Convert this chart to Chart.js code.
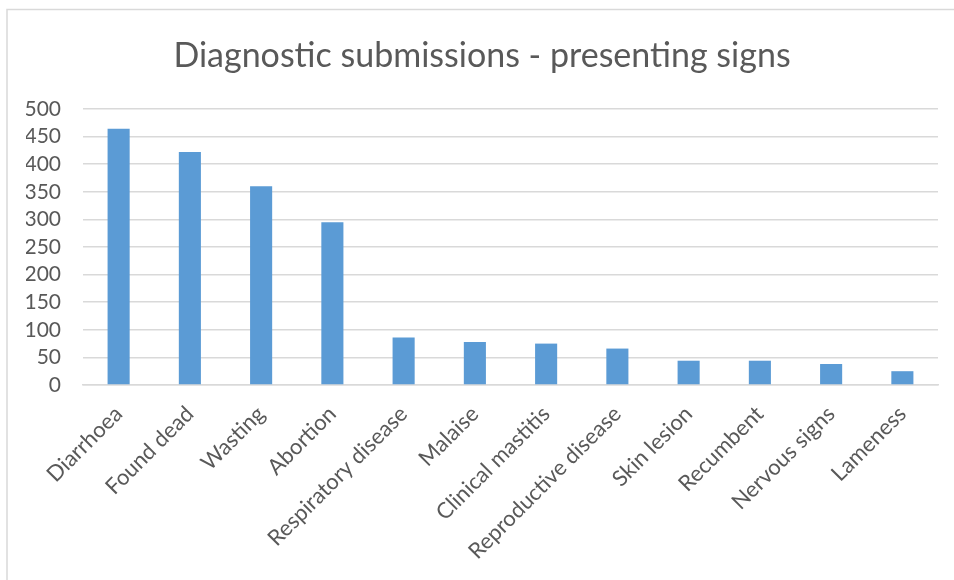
<!DOCTYPE html>
<html>
<head>
<meta charset="utf-8">
<script src="https://cdn.jsdelivr.net/npm/chart.js@4/dist/chart.umd.min.js"></script>
<style>
  html, body { margin: 0; padding: 0; background: #ffffff; }
  #wrap { position: relative; width: 954px; height: 580px; }
</style>
</head>
<body>
<div id="wrap"><canvas id="chart" width="954" height="580"></canvas></div>
<script>
// Presenting signs of diagnostic submissions
const categories = [
  'Diarrhoea', 'Found dead', 'Wasting', 'Abortion', 'Respiratory disease',
  'Malaise', 'Clinical mastitis', 'Reproductive disease', 'Skin lesion',
  'Recumbent', 'Nervous signs', 'Lameness'
];
const submissions = [464, 422, 360, 295, 86, 78, 75, 66, 44, 44, 38, 25];
const yTicks = [0, 50, 100, 150, 200, 250, 300, 350, 400, 450, 500];

const TEXT = '#595959';
const GRID = '#d9d9d9';
const FONT = 'Lato, "Open Sans", sans-serif';

// Thin frame around the chart (top and left edges)
const frame = {
  id: 'frame',
  beforeDraw(chart) {
    const ctx = chart.ctx;
    ctx.save();
    ctx.fillStyle = '#ffffff';
    ctx.fillRect(0, 0, chart.width, chart.height);
    ctx.strokeStyle = GRID;
    ctx.lineWidth = 1.5;
    ctx.beginPath();
    ctx.moveTo(7, chart.height);
    ctx.lineTo(7, 9.5);
    ctx.lineTo(chart.width, 9.5);
    ctx.stroke();
    ctx.restore();
  }
};

new Chart(document.getElementById('chart'), {
  type: 'bar',
  data: {
    labels: categories,
    datasets: [{
      label: 'Submissions',
      data: submissions,
      backgroundColor: '#5b9bd5',
      borderWidth: 0,
      barPercentage: 0.31,
      categoryPercentage: 1.0
    }]
  },
  options: {
    responsive: false,
    animation: false,
    layout: { padding: { left: 26, right: 16, top: 10, bottom: 0 } },
    plugins: {
      legend: { display: false },
      tooltip: { enabled: false },
      title: {
        display: true,
        text: 'Diagnostic submissions - presenting signs',
        color: TEXT,
        font: { family: FONT, size: 34, weight: 'normal', lineHeight: 1.2 },
        padding: { top: 26, bottom: 32.2 }
      }
    },
    scales: {
      x: {
        grid: { display: false, drawTicks: false },
        border: { display: true, color: GRID, width: 1.5 },
        ticks: {
          color: TEXT,
          font: { family: FONT, size: 22 },
          minRotation: 45,
          maxRotation: 45,
          autoSkip: false,
          padding: 16
        },
        afterFit(scale) { scale.height = 195; }
      },
      y: {
        min: 0,
        max: 500,
        afterBuildTicks(scale) { scale.ticks = yTicks.map(v => ({ value: v })); },
        grid: { color: GRID, lineWidth: 1.5, drawTicks: false },
        border: { display: false },
        ticks: {
          color: TEXT,
          font: { family: FONT, size: 21 },
          autoSkip: false,
          padding: 22
        },
        afterFit(scale) { scale.width = 57; }
      }
    }
  },
  plugins: [frame]
});
</script>
</body>
</html>
